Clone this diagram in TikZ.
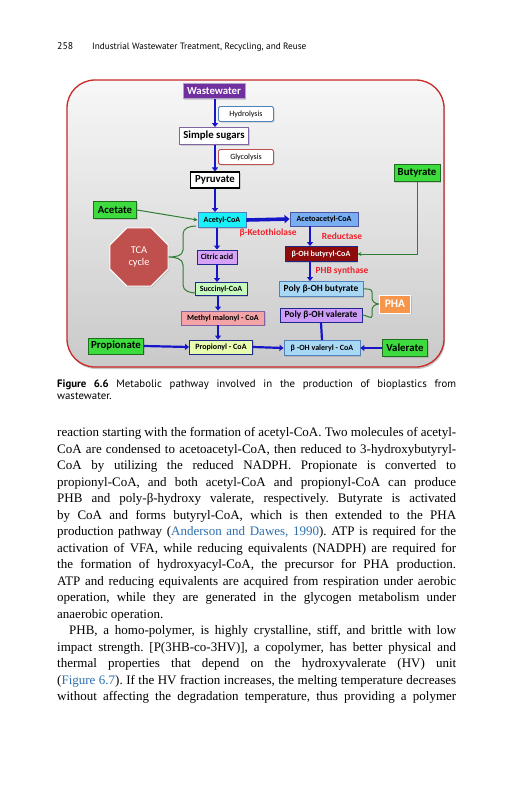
\documentclass[tikz,border=0pt]{standalone}
\usepackage{fontspec}
\setmainfont{Liberation Serif}
\newfontfamily\dfont{Carlito}
\newfontfamily\hfont{PT Sans}
\usetikzlibrary{arrows.meta,shapes.geometric,shadows}
\definecolor{framered}{HTML}{C62A2A}
\definecolor{arrblue}{HTML}{1616C8}
\definecolor{ggreen}{HTML}{3DDB3D}
\definecolor{dgreen}{HTML}{1F6E1F}
\definecolor{bgreen}{HTML}{2E7D32}
\definecolor{wwpurple}{HTML}{7030A0}
\definecolor{lblue}{HTML}{4F81BD}
\definecolor{spurple}{HTML}{8064A2}
\definecolor{gred}{HTML}{C0504D}
\definecolor{cyanf}{HTML}{19F0F8}
\definecolor{acetof}{HTML}{79AEF2}
\definecolor{bohbf}{HTML}{8E0B0B}
\definecolor{citf}{HTML}{D7A3F7}
\definecolor{sucf}{HTML}{C8FAC0}
\definecolor{mmcf}{HTML}{F4A3A6}
\definecolor{pcoaf}{HTML}{E8FCB0}
\definecolor{polyb}{HTML}{A9D8F5}
\definecolor{polyv}{HTML}{CC9CF8}
\definecolor{phaf}{HTML}{F7964A}
\definecolor{nblue}{HTML}{1C2A8C}
\definecolor{labred}{HTML}{F0202A}
\definecolor{linkblue}{HTML}{2D6FAE}
\newcommand\jline[1]{\hbox to 399pt{#1}}
\newcommand\lline[1]{\hbox to 399pt{#1\hfil}}
\begin{document}
\begin{tikzpicture}[x=1pt,y=-1pt,
  bx/.style={draw, rectangle, inner sep=0pt, align=center, font=\dfont\bfseries,
    drop shadow={opacity=0.3, shadow xshift=1pt, shadow yshift=-1.2pt}},
  green box/.style={bx, fill=ggreen, draw=dgreen, line width=1pt, text=black},
  coa/.style={bx, draw=nblue, line width=0.9pt, font=\dfont\bfseries\fontsize{8}{9}\selectfont},
  stepnote/.style={bx, fill=white, line width=0.9pt, rounded corners=1.5pt, font=\dfont\fontsize{8}{9}\selectfont},
  flow/.style={draw=arrblue, line width=2.2pt, -{Triangle[length=4pt,width=6pt]}},
  gflow/.style={draw=bgreen, line width=1pt, -{Stealth[length=4pt,width=4pt]}},
  redlab/.style={text=labred, font=\dfont\bfseries\fontsize{9.4}{10}\selectfont, inner sep=0pt},
  bigtxt/.style={font=\dfont\bfseries\fontsize{10.8}{11}\selectfont},
]
\useasboundingbox (0,0) rectangle (531,800);
\fill[white] (0,0) rectangle (531,800);
% header
\node[anchor=base west, inner sep=0, font=\hfont\fontsize{9.8}{11}\selectfont] (pg) at (57,49) {258};
\node[anchor=base west, inner sep=0, font=\hfont\fontsize{9.2}{11}\selectfont] (rh) at (92,49) {Industrial Wastewater Treatment, Recycling, and Reuse};
% frame
\fill[gray!45, rounded corners=28pt] (68,82) rectangle (445,369);
\draw[rounded corners=28pt, draw=framered, line width=1.3pt, top color=gray!6, bottom color=gray!42] (67,80) rectangle (444,367);
% nodes
\node[bx, bigtxt, fill=wwpurple, draw=spurple!60, line width=0.8pt, text=white, minimum width=62pt, minimum height=15pt] (ww) at (214,91) {Wastewater};
\node[stepnote, draw=lblue, minimum width=55pt, minimum height=15pt] (hyd) at (246,114) {Hydrolysis};
\node[bx, bigtxt, fill=white, draw=spurple, line width=0.9pt, minimum width=69pt, minimum height=17pt] (ss) at (214,136) {Simple sugars};
\node[stepnote, draw=gred, minimum width=55pt, minimum height=15pt] (gly) at (246,157) {Glycolysis};
\node[bx, bigtxt, fill=white, draw=black, line width=1.1pt, minimum width=49pt, minimum height=16pt] (pyr) at (215,180) {Pyruvate};
\node[green box, bigtxt, minimum width=46pt, minimum height=17pt] (but) at (417,173) {Butyrate};
\node[green box, bigtxt, minimum width=43pt, minimum height=17pt] (ace) at (115,210) {Acetate};
\node[coa, fill=cyanf, draw=lblue, minimum width=48pt, minimum height=15pt] (acoa) at (222,220) {Acetyl-CoA};
\node[coa, fill=acetof, draw=nblue!80, minimum width=68pt, minimum height=14pt] (aacoa) at (324,219) {Acetoacetyl-CoA};
\node[redlab] (keto) at (268,233) {β-Ketothiolase};
\node[redlab] (redu) at (342,236) {Reductase};
\node[coa, fill=bohbf, draw=nblue, text=white, minimum width=72pt, minimum height=15pt] (bohb) at (321,254) {β-OH butyryl-CoA};
\node[redlab] (phbs) at (342,271) {PHB synthase};
\node[coa, fill=citf, draw=nblue, minimum width=40pt, minimum height=14pt] (cit) at (217,257) {Citric acid};
\node[regular polygon, regular polygon sides=8, minimum size=63pt, inner sep=0pt, fill=gred, draw=white, line width=1pt, text=white, align=center, font=\dfont\fontsize{10.4}{12.5}\selectfont, drop shadow={opacity=0.3, shadow xshift=1pt, shadow yshift=-1.2pt}] (tca) at (139,257) {TCA\\cycle};
\node[coa, fill=sucf, draw=nblue, minimum width=52pt, minimum height=13pt] (suc) at (221,289) {Succinyl-CoA};
\node[coa, fill=polyb, draw=lblue, minimum width=84pt, minimum height=15pt, font=\dfont\bfseries\fontsize{9.4}{10}\selectfont] (pbut) at (321,289) {Poly β-OH butyrate};
\node[bx, fill=phaf, draw=white, line width=1pt, text=white, minimum width=31pt, minimum height=18pt, font=\dfont\bfseries\fontsize{11.5}{12}\selectfont] (pha) at (395,304) {PHA};
\node[coa, fill=polyv, draw=nblue, minimum width=82pt, minimum height=14pt, font=\dfont\bfseries\fontsize{9.4}{10}\selectfont] (pval) at (321,315) {Poly β-OH valerate};
\node[coa, fill=mmcf, draw=spurple, minimum width=83pt, minimum height=14pt] (mmc) at (223,318) {Methyl malonyl - CoA};
\node[green box, bigtxt, minimum width=55pt, minimum height=16pt] (prop) at (116,346) {Propionate};
\node[coa, fill=pcoaf, draw=nblue, minimum width=63pt, minimum height=14pt] (pcoa) at (221,347) {Propionyl - CoA};
\node[coa, fill=polyb, draw=lblue, minimum width=76pt, minimum height=15pt] (bval) at (322,348) {β -OH valeryl - CoA};
\node[green box, bigtxt, minimum width=45pt, minimum height=17pt] (val) at (405,348) {Valerate};
% arrows
\draw[flow] (ww.south -| pyr) -- (ss.north -| pyr);
\draw[flow] (ss.south -| pyr) -- (pyr.north);
\draw[flow] (pyr.south) -- (acoa.north -| pyr);
\draw[draw=arrblue, line width=3.6pt, -{Triangle[length=5pt,width=8pt]}] (acoa.east) -- (aacoa.west);
\draw[flow] (acoa.south -| cit) -- (cit.north);
\draw[flow] (cit.south) -- (suc.north -| cit);
\draw[flow] ([xshift=-14pt]aacoa.south) -- ([xshift=-14pt]aacoa.south |- bohb.north);
\draw[flow] ([xshift=-11pt]bohb.south) -- ([xshift=-11pt]bohb.south |- pbut.north);
\draw[flow] ([xshift=-3pt]suc.south) -- ([xshift=-3pt]suc.south |- mmc.north);
\draw[flow] ([xshift=-5pt]mmc.south) -- ([xshift=-5pt]mmc.south |- pcoa.north);
\draw[flow] (prop.east) -- (pcoa.west);
\draw[flow] (pcoa.east) -- (bval.west);
\draw[flow] (val.west) -- (bval.east);
\draw[draw=arrblue, line width=2.2pt] (bval.north) -- (pval.south);
\draw[gflow] (ace.east) -- (acoa.west);
\draw[gflow] (but.south) |- (bohb.east);
% TCA brace
\coordinate (bt) at (196,226);
\coordinate (bb) at (196,293);
\draw[draw=bgreen, line width=1pt] (bt) to[out=180,in=90] (183,234) -- (183,250) to[out=-90,in=0] (tca.east) (tca.east) to[out=0,in=90] (183,265) -- (183,285) to[out=-90,in=180] (bb);
% PHA brace
\coordinate (pt) at (pbut.east);
\coordinate (pb) at (pval.east);
\draw[draw=bgreen, line width=1pt] (pt) to[out=0,in=90] (372,292) -- (372,298) to[out=-90,in=180] (pha.west) (pha.west) to[out=180,in=90] (372,310) -- (372,316) to[out=-90,in=0] (pb);
% caption
\node[anchor=base west, inner sep=0] (cap) at (57,387) {\parbox[t]{399pt}{\hfont\fontsize{10.8}{12.5}\selectfont
\jline{\textbf{Figure 6.6} Metabolic pathway involved in the production of bioplastics from}
\lline{wastewater.}}};
% body
\node[anchor=base west, inner sep=0] (body) at (57,436.5) {\parbox[t]{399pt}{\frenchspacing\fontsize{13}{16.5}\selectfont
\jline{reaction starting with the formation of acetyl-CoA. Two molecules of acetyl-}
\jline{CoA are condensed to acetoacetyl-CoA, then reduced to 3-hydroxybutyryl-}
\jline{CoA by utilizing the reduced NADPH. Propionate is converted to}
\jline{propionyl-CoA, and both acetyl-CoA and propionyl-CoA can produce}
\jline{PHB and poly-β-hydroxy valerate, respectively. Butyrate is activated}
\jline{by CoA and forms butyryl-CoA, which is then extended to the PHA}
\jline{production pathway ({\color{linkblue}Anderson and Dawes, 1990}). ATP is required for the}
\jline{activation of VFA, while reducing equivalents (NADPH) are required for}
\jline{the formation of hydroxyacyl-CoA, the precursor for PHA production.}
\jline{ATP and reducing equivalents are acquired from respiration under aerobic}
\jline{operation, while they are generated in the glycogen metabolism under}
\lline{anaerobic operation.}
\jline{\hspace*{12pt}PHB, a homo-polymer, is highly crystalline, stiff, and brittle with low}
\jline{impact strength. [P(3HB-co-3HV)], a copolymer, has better physical and}
\jline{thermal properties that depend on the hydroxyvalerate (HV) unit}
\jline{({\color{linkblue}Figure 6.7}). If the HV fraction increases, the melting temperature decreases}
\jline{without affecting the degradation temperature, thus providing a polymer}}};
\end{tikzpicture}
\end{document}
